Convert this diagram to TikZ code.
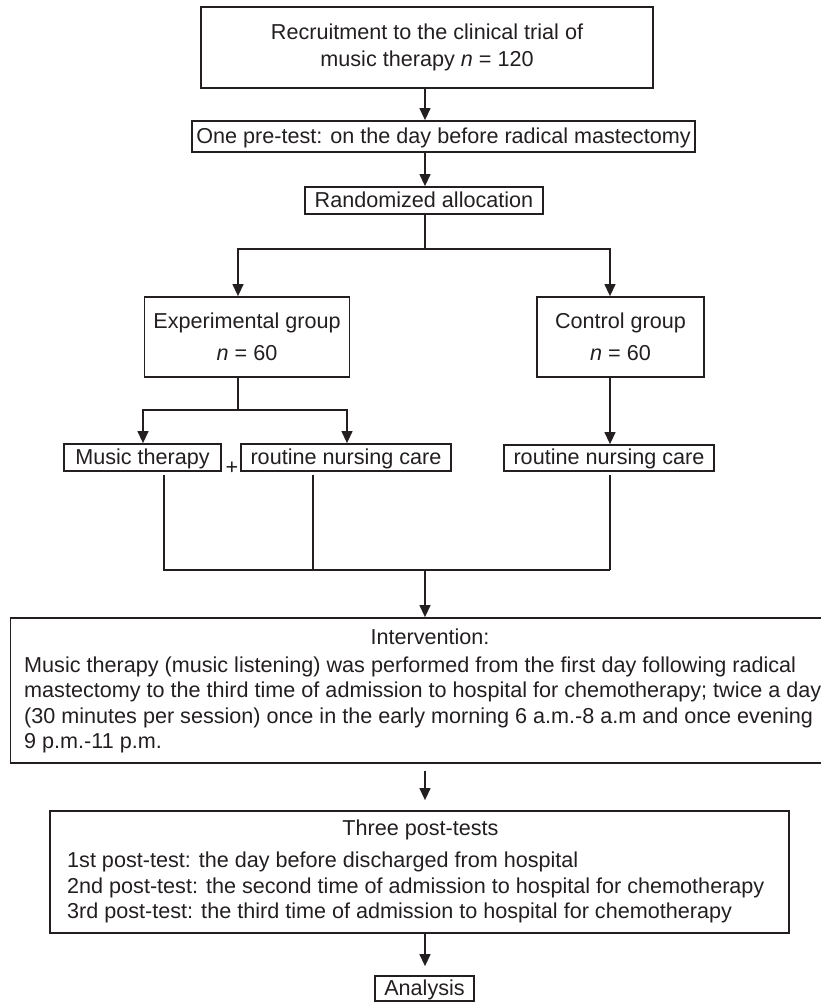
\documentclass[tikz,border=0pt]{standalone}
\usepackage{fontspec}
\setmainfont{Liberation Sans}
\usetikzlibrary{arrows.meta}
\definecolor{ink}{RGB}{35,31,32}
\begin{document}
\begin{tikzpicture}[x=1pt,y=-1pt,
  every node/.style={font=\fontsize{21.6}{26}\selectfont, text=ink},
  box/.style={draw=ink, line width=1.8pt, inner sep=0pt, align=center},
  one/.style={box, text height=16pt, text depth=3pt},
  line/.style={draw=ink, line width=1.3pt},
  arr/.style={line, -{Triangle[length=12pt,width=11pt]}},
  txt/.style={inner sep=0pt, anchor=base west}]
\useasboundingbox (0,0) rectangle (821,1002);

% boxes
\node[box, minimum width=452pt, minimum height=81pt] (rec) at (427,47.5)
  {Recruitment to the clinical trial of\\[1pt] music therapy \textit{n} = 120};
\node[one, minimum width=503pt, minimum height=31pt] (pre) at (443.5,136.5)
  {One pre-test: on the day before radical mastectomy};
\node[one, minimum width=238pt, minimum height=27pt] (rand) at (424,200.5)
  {Randomized allocation};
\node[box, minimum width=205pt, minimum height=80pt] (exp) at (247,337)
  {Experimental group\\[6pt]\textit{n} = 60};
\node[box, minimum width=167pt, minimum height=80pt] (ctrl) at (620.5,337)
  {Control group\\[6pt]\textit{n} = 60};
\node[one, minimum width=157pt, minimum height=27pt] (music) at (142.5,457.5)
  {Music therapy};
\node[inner sep=0pt] (plus) at (232,468) {+};
\node[one, minimum width=210pt, minimum height=27pt] (rnc1) at (346,457.5)
  {routine nursing care};
\node[one, minimum width=210pt, minimum height=26pt] (rnc2) at (609,458)
  {routine nursing care};

\node[box, minimum width=815pt, minimum height=145pt] (interv) at (418,690.5) {};
\node[txt, anchor=base] (intT) at (430,644) {Intervention:};
\node[txt] (int1) at (24,672) {Music therapy (music listening) was performed from the first day following radical};
\node[txt] (int2) at (24,697.5) {mastectomy to the third time of admission to hospital for chemotherapy; twice a day};
\node[txt] (int3) at (24,723) {(30 minutes per session) once in the early morning 6 a.m.-8 a.m and once evening};
\node[txt] (int4) at (24,748.5) {9 p.m.-11 p.m.};

\node[box, minimum width=739pt, minimum height=122pt] (post) at (419.5,872) {};
\node[txt, anchor=base] (postT) at (420.5,835) {Three post-tests};
\node[txt] (post1) at (67,867) {1st post-test: the day before discharged from hospital};
\node[txt] (post2) at (67,893) {2nd post-test: the second time of admission to hospital for chemotherapy};
\node[txt] (post3) at (67,918) {3rd post-test: the third time of admission to hospital for chemotherapy};

\node[one, minimum width=99pt, minimum height=25pt] (ana) at (424.5,988.5) {Analysis};

% junction points
\coordinate (c0) at (425,0);
\coordinate (s) at (425,249);
\coordinate (sL) at (238,249);
\coordinate (sR) at (610,249);
\coordinate (e) at (238,410);
\coordinate (mL) at (164,570);
\coordinate (mM) at (313,570);
\coordinate (mR) at (610,570);
\coordinate (m) at (425,570);

% connectors
\draw[arr] (rec.south -| c0) -- (pre.north -| c0);
\draw[arr] (pre.south -| c0) -- (rand.north -| c0);
\draw[line] (rand.south -| c0) -- (s);
\draw[arr] (s) -| (exp.north -| sL);
\draw[arr] (s) -| (ctrl.north -| sR);
\draw[line] (exp.south -| e) -- (e);
\draw[arr] (e) -| (music.north -| 143,0);
\draw[arr] (e) -| (rnc1.north -| 347,0);
\draw[arr] (ctrl.south -| sR) -- (rnc2.north -| sR);
\draw[line, shorten <=3pt] (music.south -| mL) -- (mL) -- (mR);
\draw[line, shorten <=3pt] (rnc1.south -| mM) -- (mM);
\draw[line, shorten <=3pt] (rnc2.south -| mR) -- (mR);
\draw[arr] (m) -- (interv.north -| m);
\draw[arr, shorten <=7pt, shorten >=10pt] (interv.south -| m) -- (post.north -| m);
\draw[arr, shorten >=9pt] (post.south -| m) -- (ana.north -| m);
\end{tikzpicture}
\end{document}
